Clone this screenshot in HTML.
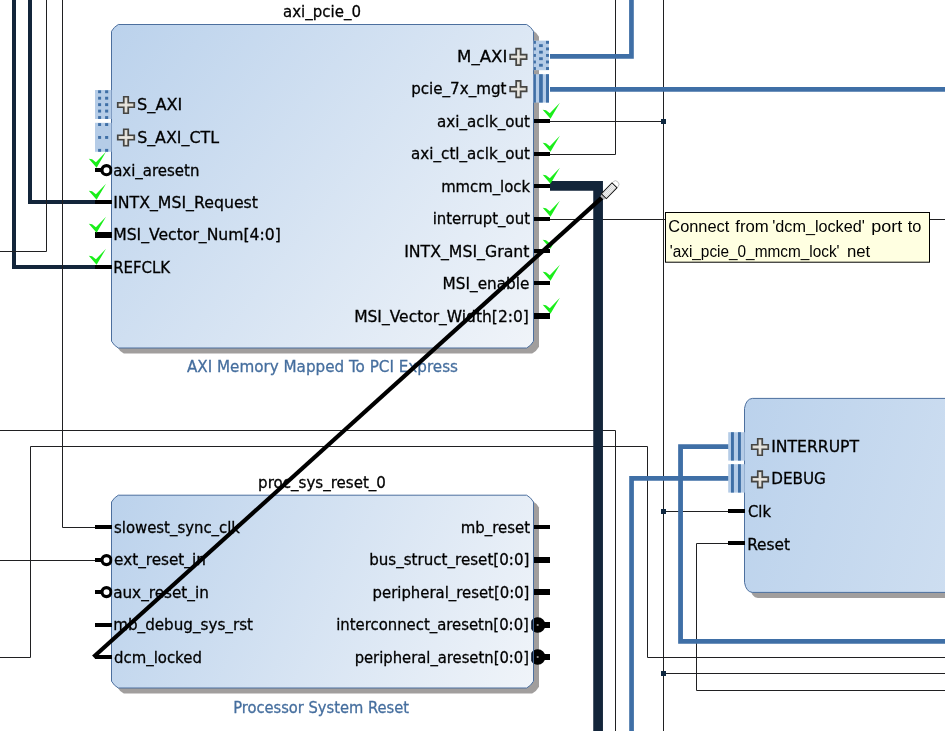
<!DOCTYPE html>
<html><head><meta charset="utf-8"><title>Block Design</title>
<style>html,body{margin:0;padding:0;background:#fff;overflow:hidden}svg{display:block;will-change:transform}</style>
</head><body>
<svg width="945" height="731" viewBox="0 0 945 731" font-family='"DejaVu Sans","Liberation Sans",sans-serif' font-size="16">
<defs>
<linearGradient id="g1" gradientUnits="userSpaceOnUse" x1="111.5" y1="24.5" x2="533.5" y2="348"><stop offset="0" stop-color="#bbd2ec"/><stop offset="1" stop-color="#f0f4f9"/></linearGradient>
<linearGradient id="g2" gradientUnits="userSpaceOnUse" x1="111.5" y1="495" x2="533.5" y2="688"><stop offset="0" stop-color="#bbd2ec"/><stop offset="1" stop-color="#f0f4f9"/></linearGradient>
<linearGradient id="g3" gradientUnits="userSpaceOnUse" x1="744.5" y1="398" x2="1430" y2="592"><stop offset="0" stop-color="#bbd2ec"/><stop offset="1" stop-color="#f0f4f9"/></linearGradient>
<clipPath id="cl"><rect x="90" y="0" width="22.3" height="731"/></clipPath>
<clipPath id="cr"><rect x="534" y="0" width="40" height="731"/></clipPath>
<clipPath id="cr2"><rect x="531.2" y="0" width="1.9" height="731"/></clipPath>
</defs>
<g>
<path d="M14,-2 V267 H100" fill="none" stroke="#13253a" stroke-width="4" stroke-linejoin="miter"/>
<path d="M30,-2 V202 H100" fill="none" stroke="#13253a" stroke-width="4" stroke-linejoin="miter"/>
<path d="M46.5,-2 V251.5 H-2" fill="none" stroke="#202022" stroke-width="1" stroke-linejoin="miter"/>
<path d="M62.5,-2 V527.5 H100" fill="none" stroke="#202022" stroke-width="1" stroke-linejoin="miter"/>
<path d="M-2,560.5 H100" fill="none" stroke="#202022" stroke-width="1" stroke-linejoin="miter"/>
<path d="M-2,430.5 H615.5 V733" fill="none" stroke="#202022" stroke-width="1" stroke-linejoin="miter"/>
<path d="M-2,657.5 H30.5 V446.5 H647.5 V657.5 H947" fill="none" stroke="#202022" stroke-width="1" stroke-linejoin="miter"/>
<path d="M549,121.5 H663.5" fill="none" stroke="#202022" stroke-width="1" stroke-linejoin="miter"/>
<path d="M663.5,-2 V733" fill="none" stroke="#202022" stroke-width="1" stroke-linejoin="miter"/>
<path d="M549,154.5 H615.5 V-2" fill="none" stroke="#202022" stroke-width="1" stroke-linejoin="miter"/>
<path d="M549,219.5 H947" fill="none" stroke="#202022" stroke-width="1" stroke-linejoin="miter"/>
<path d="M663.5,511.5 H730" fill="none" stroke="#202022" stroke-width="1" stroke-linejoin="miter"/>
<path d="M730,543.5 H696.5 V690.5 H947" fill="none" stroke="#202022" stroke-width="1" stroke-linejoin="miter"/>
<path d="M663.5,673.5 H947" fill="none" stroke="#202022" stroke-width="1" stroke-linejoin="miter"/>
<rect x="661.0" y="119.0" width="5" height="5" fill="#0f2840"/>
<rect x="661.0" y="509.0" width="5" height="5" fill="#0f2840"/>
<rect x="661.0" y="671.0" width="5" height="5" fill="#0f2840"/>
<path d="M550,56.35 H631.45 V-3" fill="none" stroke="#3f6fa6" stroke-width="4.7" stroke-linejoin="miter"/>
<path d="M550,89.3 H948" fill="none" stroke="#3f6fa6" stroke-width="4.7" stroke-linejoin="miter"/>
<path d="M730,446.6 H680.55 V641.4 H948" fill="none" stroke="#3f6fa6" stroke-width="4.8" stroke-linejoin="miter"/>
<path d="M730,478.4 H631.55 V734" fill="none" stroke="#3f6fa6" stroke-width="4.7" stroke-linejoin="miter"/>
<path d="M550,185.85 H598.1 V734" fill="none" stroke="#13253a" stroke-width="9.7" stroke-linejoin="miter"/>
<path d="M123.8,30.0 H532.2 Q536.6,32.4 539.0,36.8 V346.7 Q536.6,351.1 532.2,353.5 H123.8 Q119.4,351.1 117.0,346.7 V36.8 Q119.4,32.4 123.8,30.0Z" fill="#a19e9d"/>
<path d="M118.3,24.5 H526.7 Q531.1,26.9 533.5,31.3 V341.2 Q531.1,345.6 526.7,348 H118.3 Q113.9,345.6 111.5,341.2 V31.3 Q113.9,26.9 118.3,24.5Z" fill="url(#g1)" stroke="#4c6f9e" stroke-width="1"/>
<text x="283.07" y="16.6" fill="#000" stroke="#000" stroke-width="0.3" textLength="77.89" lengthAdjust="spacingAndGlyphs">axi<tspan dy="-1">_</tspan><tspan dy="1">p</tspan>cie<tspan dy="-1">_</tspan><tspan dy="1">0</tspan></text>
<text x="186.98" y="371.6" fill="#456e9e" stroke="#456e9e" stroke-width="0.3" textLength="270.99" lengthAdjust="spacingAndGlyphs">AXI Memory Mapped To PCI Express</text>
<rect x="95" y="90" width="16.5" height="29" fill="#b5cce7"/>
<rect x="98.1" y="90.3" width="3" height="2.9" fill="#3f6fa6"/>
<rect x="98.1" y="96.75" width="3" height="2.9" fill="#3f6fa6"/>
<rect x="98.1" y="103.2" width="3" height="2.9" fill="#3f6fa6"/>
<rect x="98.1" y="109.65" width="3" height="2.9" fill="#3f6fa6"/>
<rect x="98.1" y="116.1" width="3" height="2.9" fill="#3f6fa6"/>
<rect x="105.1" y="90.3" width="3.1" height="2.9" fill="#3f6fa6"/>
<rect x="105.1" y="96.75" width="3.1" height="2.9" fill="#3f6fa6"/>
<rect x="105.1" y="103.2" width="3.1" height="2.9" fill="#3f6fa6"/>
<rect x="105.1" y="109.65" width="3.1" height="2.9" fill="#3f6fa6"/>
<rect x="105.1" y="116.1" width="3.1" height="2.9" fill="#3f6fa6"/>
<rect x="95" y="122.8" width="16.5" height="29" fill="#b5cce7"/>
<rect x="98.1" y="123.1" width="3" height="2.9" fill="#3f6fa6"/>
<rect x="98.1" y="136.0" width="3" height="2.9" fill="#3f6fa6"/>
<rect x="98.1" y="148.9" width="3" height="2.9" fill="#3f6fa6"/>
<rect x="105.1" y="123.1" width="3.1" height="2.9" fill="#3f6fa6"/>
<rect x="105.1" y="136.0" width="3.1" height="2.9" fill="#3f6fa6"/>
<rect x="105.1" y="148.9" width="3.1" height="2.9" fill="#3f6fa6"/>
<path d="M123.75,96.75 H128.25 V102.75 H134.25 V107.25 H128.25 V113.25 H123.75 V107.25 H117.75 V102.75 H123.75Z" fill="#d9d6cf" stroke="#454543" stroke-width="1.7" stroke-linejoin="miter"/>
<path d="M119.5,105 H132.5 M126,98.5 V111.5" stroke="#ebe9e4" stroke-width="1.1" fill="none"/>
<text x="137.13" y="110.4" fill="#000" stroke="#000" stroke-width="0.3" textLength="45.2" lengthAdjust="spacingAndGlyphs">S<tspan dy="-1">_</tspan><tspan dy="1">A</tspan>XI</text>
<path d="M123.75,129.25 H128.25 V135.25 H134.25 V139.75 H128.25 V145.75 H123.75 V139.75 H117.75 V135.25 H123.75Z" fill="#d9d6cf" stroke="#454543" stroke-width="1.7" stroke-linejoin="miter"/>
<path d="M119.5,137.5 H132.5 M126,131.0 V144.0" stroke="#ebe9e4" stroke-width="1.1" fill="none"/>
<text x="137.13" y="142.9" fill="#000" stroke="#000" stroke-width="0.3" textLength="81.92" lengthAdjust="spacingAndGlyphs">S<tspan dy="-1">_</tspan><tspan dy="1">A</tspan>XI<tspan dy="-1">_</tspan><tspan dy="1">C</tspan>TL</text>
<rect x="95" y="168.0" width="7" height="4" fill="#000"/>
<circle cx="106.5" cy="170.2" r="4.55" fill="#fff" stroke="#000" stroke-width="3.2" clip-path="url(#cl)"/>
<text x="113.14" y="175.5" fill="#000" stroke="#000" stroke-width="0.3" textLength="86.24" lengthAdjust="spacingAndGlyphs">axi<tspan dy="-1">_</tspan><tspan dy="1">a</tspan>resetn</text>
<path d="M88.8,158.85 L92.1,159.35 L95.9,162.35 L106.0,151.75 L96.6,167.65Z" fill="#19ee19"/>
<rect x="95" y="200.0" width="17" height="4" fill="#000"/>
<text x="113.16" y="207.7" fill="#000" stroke="#000" stroke-width="0.3" textLength="144.8" lengthAdjust="spacingAndGlyphs">INTX<tspan dy="-1">_</tspan><tspan dy="1">M</tspan>SI<tspan dy="-1">_</tspan><tspan dy="1">R</tspan>equest</text>
<path d="M88.8,190.85 L92.1,191.35 L95.9,194.35 L106.0,183.75 L96.6,199.65Z" fill="#19ee19"/>
<rect x="95" y="232.0" width="17" height="6" fill="#000"/>
<text x="113.16" y="240.2" fill="#000" stroke="#000" stroke-width="0.3" textLength="167.69" lengthAdjust="spacingAndGlyphs">MSI<tspan dy="-1">_</tspan><tspan dy="1">V</tspan>ector<tspan dy="-1">_</tspan><tspan dy="1">N</tspan>um[4:0]</text>
<path d="M88.8,223.85 L92.1,224.35 L95.9,227.35 L106.0,216.75 L96.6,232.65Z" fill="#19ee19"/>
<rect x="95" y="265.0" width="17" height="4" fill="#000"/>
<text x="113.16" y="272.7" fill="#000" stroke="#000" stroke-width="0.3" textLength="56.9" lengthAdjust="spacingAndGlyphs">REFCLK</text>
<path d="M88.8,255.85 L92.1,256.35 L95.9,259.35 L106.0,248.75 L96.6,264.65Z" fill="#19ee19"/>
<path d="M516.15,48.55 H520.65 V54.55 H526.65 V59.05 H520.65 V65.05 H516.15 V59.05 H510.15 V54.55 H516.15Z" fill="#d9d6cf" stroke="#454543" stroke-width="1.7" stroke-linejoin="miter"/>
<path d="M511.9,56.8 H524.9 M518.4,50.3 V63.3" stroke="#ebe9e4" stroke-width="1.1" fill="none"/>
<text x="457.1" y="61.7" fill="#000" stroke="#000" stroke-width="0.3" textLength="50.23" lengthAdjust="spacingAndGlyphs">M<tspan dy="-1">_</tspan><tspan dy="1">A</tspan>XI</text>
<path d="M516.15,80.95 H520.65 V86.95 H526.65 V91.45 H520.65 V97.45 H516.15 V91.45 H510.15 V86.95 H516.15Z" fill="#d9d6cf" stroke="#454543" stroke-width="1.7" stroke-linejoin="miter"/>
<path d="M511.9,89.2 H524.9 M518.4,82.7 V95.7" stroke="#ebe9e4" stroke-width="1.1" fill="none"/>
<text x="411.15" y="94.3" fill="#000" stroke="#000" stroke-width="0.3" textLength="95.33" lengthAdjust="spacingAndGlyphs">pcie<tspan dy="-1">_</tspan><tspan dy="1">7</tspan>x<tspan dy="-1">_</tspan><tspan dy="1">m</tspan>gt</text>
<rect x="533.5" y="40.6" width="15.4" height="29.6" fill="#b5cce7"/>
<rect x="533.7" y="40.9" width="2.2" height="2.9" fill="#3f6fa6"/>
<rect x="533.7" y="47.44" width="2.2" height="2.9" fill="#3f6fa6"/>
<rect x="533.7" y="53.98" width="2.2" height="2.9" fill="#3f6fa6"/>
<rect x="533.7" y="60.52" width="2.2" height="2.9" fill="#3f6fa6"/>
<rect x="533.7" y="67.06" width="2.2" height="2.9" fill="#3f6fa6"/>
<rect x="539.1" y="44.17" width="3.7" height="2.9" fill="#3f6fa6"/>
<rect x="539.1" y="50.71" width="3.7" height="2.9" fill="#3f6fa6"/>
<rect x="539.1" y="57.25" width="3.7" height="2.9" fill="#3f6fa6"/>
<rect x="539.1" y="63.79" width="3.7" height="2.9" fill="#3f6fa6"/>
<rect x="546" y="40.9" width="3" height="2.9" fill="#3f6fa6"/>
<rect x="546" y="47.44" width="3" height="2.9" fill="#3f6fa6"/>
<rect x="546" y="53.98" width="3" height="2.9" fill="#3f6fa6"/>
<rect x="546" y="60.52" width="3" height="2.9" fill="#3f6fa6"/>
<rect x="546" y="67.06" width="3" height="2.9" fill="#3f6fa6"/>
<rect x="533.5" y="74.2" width="15.4" height="28.4" fill="#b5cce7"/>
<rect x="533.7" y="74.2" width="2.2" height="28.4" fill="#3f6fa6"/>
<rect x="539.1" y="74.2" width="3.7" height="28.4" fill="#3f6fa6"/>
<rect x="546" y="74.2" width="3" height="28.4" fill="#3f6fa6"/>
<rect x="534" y="119.0" width="16" height="4" fill="#000"/>
<text x="437.1" y="126.6" fill="#000" stroke="#000" stroke-width="0.3" textLength="92.9" lengthAdjust="spacingAndGlyphs">axi<tspan dy="-1">_</tspan><tspan dy="1">a</tspan>clk<tspan dy="-1">_</tspan><tspan dy="1">o</tspan>ut</text>
<path d="M542.7,109.85 L546.0,110.35 L549.8,113.35 L559.9,102.75 L550.5,118.65Z" fill="#19ee19"/>
<rect x="534" y="152.0" width="16" height="4" fill="#000"/>
<text x="411.1" y="159.1" fill="#000" stroke="#000" stroke-width="0.3" textLength="118.9" lengthAdjust="spacingAndGlyphs">axi<tspan dy="-1">_</tspan><tspan dy="1">c</tspan>tl<tspan dy="-1">_</tspan><tspan dy="1">a</tspan>clk<tspan dy="-1">_</tspan><tspan dy="1">o</tspan>ut</text>
<path d="M542.7,142.85 L546.0,143.35 L549.8,146.35 L559.9,135.75 L550.5,151.65Z" fill="#19ee19"/>
<rect x="534" y="184.0" width="16" height="4" fill="#000"/>
<text x="441.15" y="191.6" fill="#000" stroke="#000" stroke-width="0.3" textLength="88.85" lengthAdjust="spacingAndGlyphs">mmcm<tspan dy="-1">_</tspan><tspan dy="1">l</tspan>ock</text>
<path d="M542.7,174.85 L546.0,175.35 L549.8,178.35 L559.9,167.75 L550.5,183.65Z" fill="#19ee19"/>
<rect x="534" y="217.0" width="16" height="4" fill="#000"/>
<text x="432.63" y="224.1" fill="#000" stroke="#000" stroke-width="0.3" textLength="97.37" lengthAdjust="spacingAndGlyphs">interrupt<tspan dy="-1">_</tspan><tspan dy="1">o</tspan>ut</text>
<path d="M542.7,207.85 L546.0,208.35 L549.8,211.35 L559.9,200.75 L550.5,216.65Z" fill="#19ee19"/>
<rect x="534" y="249.0" width="16" height="4" fill="#000"/>
<text x="404.15" y="256.6" fill="#000" stroke="#000" stroke-width="0.3" textLength="125.35" lengthAdjust="spacingAndGlyphs">INTX<tspan dy="-1">_</tspan><tspan dy="1">M</tspan>SI<tspan dy="-1">_</tspan><tspan dy="1">G</tspan>rant</text>
<path d="M542.7,239.85 L546.0,240.35 L549.8,243.35 L559.9,232.75 L550.5,248.65Z" fill="#19ee19"/>
<rect x="534" y="281.0" width="16" height="4" fill="#000"/>
<text x="442.61" y="289.1" fill="#000" stroke="#000" stroke-width="0.3" textLength="86.85" lengthAdjust="spacingAndGlyphs">MSI<tspan dy="-1">_</tspan><tspan dy="1">e</tspan>nable</text>
<path d="M542.7,271.85 L546.0,272.35 L549.8,275.35 L559.9,264.75 L550.5,280.65Z" fill="#19ee19"/>
<rect x="534" y="313.0" width="16" height="6" fill="#000"/>
<text x="354.15" y="321.6" fill="#000" stroke="#000" stroke-width="0.3" textLength="174.77" lengthAdjust="spacingAndGlyphs">MSI<tspan dy="-1">_</tspan><tspan dy="1">V</tspan>ector<tspan dy="-1">_</tspan><tspan dy="1">W</tspan>idth[2:0]</text>
<path d="M542.7,304.85 L546.0,305.35 L549.8,308.35 L559.9,297.75 L550.5,313.65Z" fill="#19ee19"/>
<path d="M123.8,500.7 H532.2 Q536.6,503.09999999999997 539.0,507.5 V686.7 Q536.6,691.1 532.2,693.5 H123.8 Q119.4,691.1 117.0,686.7 V507.5 Q119.4,503.09999999999997 123.8,500.7Z" fill="#a19e9d"/>
<path d="M118.3,495.2 H526.7 Q531.1,497.59999999999997 533.5,502.0 V681.2 Q531.1,685.6 526.7,688 H118.3 Q113.9,685.6 111.5,681.2 V502.0 Q113.9,497.59999999999997 118.3,495.2Z" fill="url(#g2)" stroke="#4c6f9e" stroke-width="1"/>
<text x="258.1" y="487.5" fill="#000" stroke="#000" stroke-width="0.3" textLength="127.86" lengthAdjust="spacingAndGlyphs">proc<tspan dy="-1">_</tspan><tspan dy="1">s</tspan>ys<tspan dy="-1">_</tspan><tspan dy="1">r</tspan>eset<tspan dy="-1">_</tspan><tspan dy="1">0</tspan></text>
<text x="233.14" y="712.5" fill="#456e9e" stroke="#456e9e" stroke-width="0.3" textLength="175.86" lengthAdjust="spacingAndGlyphs">Processor System Reset</text>
<rect x="95" y="525.0" width="17" height="4" fill="#000"/>
<text x="114.04" y="532.6" fill="#000" stroke="#000" stroke-width="0.3" textLength="125.96" lengthAdjust="spacingAndGlyphs">slowest<tspan dy="-1">_</tspan><tspan dy="1">s</tspan>ync<tspan dy="-1">_</tspan><tspan dy="1">c</tspan>lk</text>
<rect x="95" y="558.0" width="7" height="4" fill="#000"/>
<circle cx="106.5" cy="560.1" r="4.55" fill="#fff" stroke="#000" stroke-width="3.2" clip-path="url(#cl)"/>
<text x="114.04" y="565.1" fill="#000" stroke="#000" stroke-width="0.3" textLength="91.81" lengthAdjust="spacingAndGlyphs">ext<tspan dy="-1">_</tspan><tspan dy="1">r</tspan>eset<tspan dy="-1">_</tspan><tspan dy="1">i</tspan>n</text>
<rect x="95" y="590.0" width="7" height="4" fill="#000"/>
<circle cx="106.5" cy="592.1" r="4.55" fill="#fff" stroke="#000" stroke-width="3.2" clip-path="url(#cl)"/>
<text x="113.14" y="597.6" fill="#000" stroke="#000" stroke-width="0.3" textLength="95.71" lengthAdjust="spacingAndGlyphs">aux<tspan dy="-1">_</tspan><tspan dy="1">r</tspan>eset<tspan dy="-1">_</tspan><tspan dy="1">i</tspan>n</text>
<rect x="95" y="623.0" width="17" height="4" fill="#000"/>
<text x="113.14" y="630.1" fill="#000" stroke="#000" stroke-width="0.3" textLength="139.86" lengthAdjust="spacingAndGlyphs">mb<tspan dy="-1">_</tspan><tspan dy="1">d</tspan>ebug<tspan dy="-1">_</tspan><tspan dy="1">s</tspan>ys<tspan dy="-1">_</tspan><tspan dy="1">r</tspan>st</text>
<rect x="95" y="655.0" width="17" height="4" fill="#000"/>
<text x="114.04" y="662.6" fill="#000" stroke="#000" stroke-width="0.3" textLength="87.81" lengthAdjust="spacingAndGlyphs">dcm<tspan dy="-1">_</tspan><tspan dy="1">l</tspan>ocked</text>
<rect x="534" y="525.0" width="16" height="4" fill="#000"/>
<text x="460.63" y="532.6" fill="#000" stroke="#000" stroke-width="0.3" textLength="69.37" lengthAdjust="spacingAndGlyphs">mb<tspan dy="-1">_</tspan><tspan dy="1">r</tspan>eset</text>
<rect x="534" y="557.0" width="16" height="6" fill="#000"/>
<text x="369.15" y="565.1" fill="#000" stroke="#000" stroke-width="0.3" textLength="160.27" lengthAdjust="spacingAndGlyphs">bus<tspan dy="-1">_</tspan><tspan dy="1">s</tspan>truct<tspan dy="-1">_</tspan><tspan dy="1">r</tspan>eset[0:0]</text>
<rect x="534" y="589.0" width="16" height="6" fill="#000"/>
<text x="372.57" y="597.6" fill="#000" stroke="#000" stroke-width="0.3" textLength="156.85" lengthAdjust="spacingAndGlyphs">peripheral<tspan dy="-1">_</tspan><tspan dy="1">r</tspan>eset[0:0]</text>
<rect x="540" y="622.0" width="10" height="6" fill="#000"/>
<circle cx="537.7" cy="625" r="7.7" fill="#0a1830" clip-path="url(#cr2)"/>
<circle cx="537.7" cy="625" r="4.4" fill="#9a9a9a" stroke="#000" stroke-width="6.6" clip-path="url(#cr)"/>
<text x="336.15" y="630.1" fill="#000" stroke="#000" stroke-width="0.3" textLength="192.76" lengthAdjust="spacingAndGlyphs">interconnect<tspan dy="-1">_</tspan><tspan dy="1">a</tspan>resetn[0:0]</text>
<rect x="540" y="654.0" width="10" height="6" fill="#000"/>
<circle cx="537.7" cy="657" r="7.7" fill="#0a1830" clip-path="url(#cr2)"/>
<circle cx="537.7" cy="657" r="4.4" fill="#9a9a9a" stroke="#000" stroke-width="6.6" clip-path="url(#cr)"/>
<text x="354.63" y="662.6" fill="#000" stroke="#000" stroke-width="0.3" textLength="174.33" lengthAdjust="spacingAndGlyphs">peripheral<tspan dy="-1">_</tspan><tspan dy="1">a</tspan>resetn[0:0]</text>
<path d="M757.8,403.9 H1164.7 Q1171.0,404.5 1172.5,413.9 V587.9 Q1171.0,597.3 1164.7,597.9 H757.8 Q751.5,597.3 750.0,587.9 V413.9 Q751.5,404.5 757.8,403.9Z" fill="#a19e9d"/>
<path d="M752.3,398.4 H1159.2 Q1165.5,399.0 1167,408.4 V582.4 Q1165.5,591.8 1159.2,592.4 H752.3 Q746.0,591.8 744.5,582.4 V408.4 Q746.0,399.0 752.3,398.4Z" fill="url(#g3)" stroke="#4c6f9e" stroke-width="1"/>
<rect x="728.2" y="432.2" width="16.5" height="28.4" fill="#b5cce7"/>
<rect x="731" y="432.2" width="2.9" height="28.4" fill="#3f6fa6"/>
<rect x="738" y="432.2" width="2.9" height="28.4" fill="#3f6fa6"/>
<rect x="728.2" y="464.2" width="16.5" height="28.4" fill="#b5cce7"/>
<rect x="731" y="464.2" width="2.9" height="28.4" fill="#3f6fa6"/>
<rect x="738" y="464.2" width="2.9" height="28.4" fill="#3f6fa6"/>
<path d="M757.75,438.75 H762.25 V444.75 H768.25 V449.25 H762.25 V455.25 H757.75 V449.25 H751.75 V444.75 H757.75Z" fill="#d9d6cf" stroke="#454543" stroke-width="1.7" stroke-linejoin="miter"/>
<path d="M753.5,447 H766.5 M760,440.5 V453.5" stroke="#ebe9e4" stroke-width="1.1" fill="none"/>
<text x="771.19" y="451.9" fill="#000" stroke="#000" stroke-width="0.3" textLength="87.88" lengthAdjust="spacingAndGlyphs">INTERRUPT</text>
<path d="M757.75,471.15 H762.25 V477.15 H768.25 V481.65 H762.25 V487.65 H757.75 V481.65 H751.75 V477.15 H757.75Z" fill="#d9d6cf" stroke="#454543" stroke-width="1.7" stroke-linejoin="miter"/>
<path d="M753.5,479.4 H766.5 M760,472.9 V485.9" stroke="#ebe9e4" stroke-width="1.1" fill="none"/>
<text x="771.19" y="484.4" fill="#000" stroke="#000" stroke-width="0.3" textLength="54.71" lengthAdjust="spacingAndGlyphs">DEBUG</text>
<rect x="728" y="509.0" width="17" height="4" fill="#000"/>
<text x="748.04" y="516.6" fill="#000" stroke="#000" stroke-width="0.3" textLength="22.91" lengthAdjust="spacingAndGlyphs">Clk</text>
<rect x="728" y="541.0" width="17" height="4" fill="#000"/>
<text x="747.14" y="550" fill="#000" stroke="#000" stroke-width="0.3" textLength="42.85" lengthAdjust="spacingAndGlyphs">Reset</text>
<line x1="93.5" y1="657" x2="602.2" y2="197.4" stroke="#000" stroke-width="4.2"/>
<g transform="translate(603.9,196.2) rotate(-45.8)"><path d="M-2.6,-2.4 L0,-3.3 V3.3 L-2.6,2.4Z" fill="#b5b5b8"/><path d="M15.2,-3.4 H17 Q20,-3.4 20,0 Q20,3.4 17,3.4 H15.2Z" fill="#fff" stroke="#bdbdbd" stroke-width="0.9"/><rect x="0" y="-3.5" width="15.2" height="7" fill="#f6f6f6" stroke="#111" stroke-width="1"/><path d="M1,-2 H14.4 M1,-0.65 H14.4 M1,0.7 H14.4 M1,2.05 H14.4" stroke="#c4c4c4" stroke-width="0.6"/></g>
</g>
<rect x="665.5" y="212.500" width="264" height="49.7" fill="#ffffe1" stroke="#000" stroke-width="1"/>
<g font-family='"Liberation Sans","DejaVu Sans",sans-serif' font-size="16" fill="#000">
<text x="668.34" y="232.2" textLength="60.92" lengthAdjust="spacingAndGlyphs">Connect </text>
<text x="735.24" y="232.2" textLength="33.42" lengthAdjust="spacingAndGlyphs">from </text>
<text x="772.22" y="232.2" textLength="92.56" lengthAdjust="spacingAndGlyphs">'dcm_locked' </text>
<text x="871.34" y="232.2" textLength="31.04" lengthAdjust="spacingAndGlyphs">port </text>
<text x="907.74" y="232.2" textLength="13.64" lengthAdjust="spacingAndGlyphs">to </text>
<text x="669.74" y="257.2" textLength="169.78" lengthAdjust="spacingAndGlyphs">'axi_pcie_0_mmcm_lock' </text>
<text x="846.98" y="257.2" textLength="23.28" lengthAdjust="spacingAndGlyphs">net </text>
</g>
</svg>
</body></html>
